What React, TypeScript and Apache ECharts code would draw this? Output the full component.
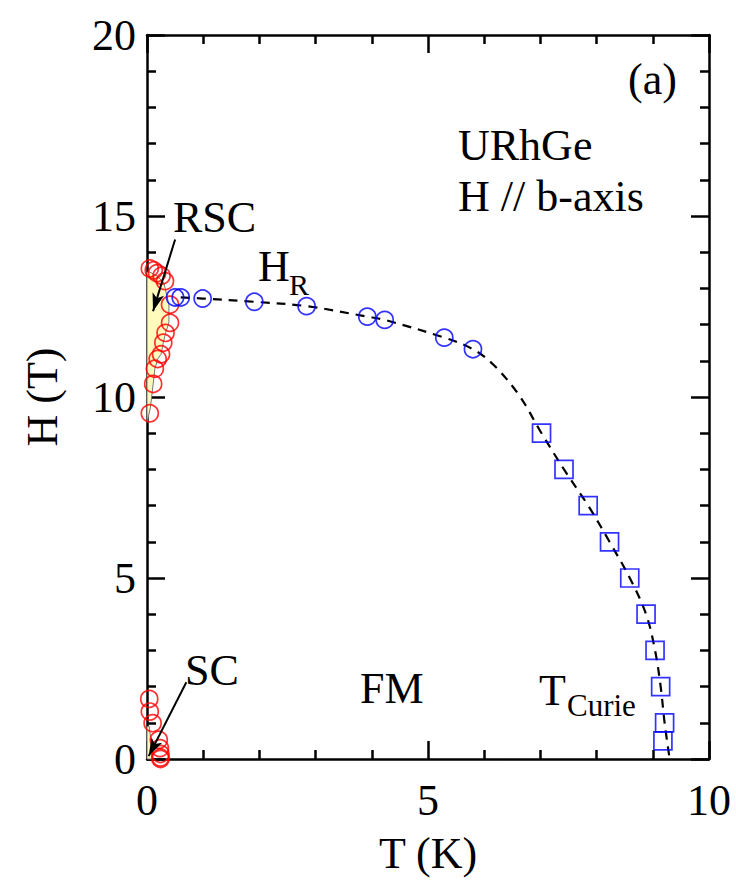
import React, { useEffect, useRef } from "react";
import * as echarts from "echarts";

// Phase diagram of URhGe, H // b-axis
const rscT = [0.05, 0.12, 0.18, 0.26, 0.32, 0.41, 0.41, 0.33, 0.29, 0.25, 0.19, 0.14, 0.11, 0.05];
const rscH = [13.55, 13.5, 13.42, 13.35, 13.2, 12.55, 12.05, 11.77, 11.5, 11.18, 11.05, 10.78, 10.36, 9.55];

const scT = [0.04, 0.05, 0.1, 0.21, 0.23, 0.24, 0.24, 0.24];
const scH = [1.66, 1.31, 0.99, 0.53, 0.3, 0.14, 0.04, 0.0];

const hrT = [0.5, 0.6, 0.99, 1.91, 2.84, 3.92, 4.23, 5.29, 5.8];
const hrH = [12.75, 12.75, 12.72, 12.63, 12.51, 12.22, 12.13, 11.64, 11.32];

const tcT = [7.02, 7.42, 7.85, 8.23, 8.59, 8.88, 9.04, 9.14, 9.21, 9.18];
const tcH = [9.0, 8.0, 7.0, 6.0, 5.0, 4.0, 3.0, 2.0, 1.0, 0.5];

// dashed guide line
const curveT = [0.6, 0.99, 1.91, 2.84, 3.92, 4.23, 5.29, 5.8, 6.16, 6.62, 7.02, 7.42, 7.85, 8.23, 8.59, 8.88, 9.04, 9.14, 9.21, 9.3];
const curveH = [12.75, 12.72, 12.63, 12.51, 12.22, 12.13, 11.64, 11.32, 10.9, 10.05, 9.0, 8.0, 7.0, 6.0, 5.0, 4.0, 3.0, 2.0, 1.0, 0.0];

// shaded superconducting regions
const rscRegionT = [0, 0.06, 0.11, 0.14, 0.19, 0.25, 0.29, 0.33, 0.39, 0.39, 0.3, 0.18, 0.05, 0];
const rscRegionH = [9.3, 9.7, 10.36, 10.78, 11.05, 11.18, 11.5, 11.77, 12.05, 12.55, 13.15, 13.35, 13.45, 13.45];
const scRegionT = [0, 0.1, 0.07, 0.04, 0];
const scRegionH = [0, 0, 0.5, 0.9, 0.9];

// arrows [startT, startH, endT, endH]
const rscArrow = [0.5, 14.35, 0.107, 12.37];
const scArrow = [0.7, 2.12, 0.03, 0.08];

const xTicks = { min: 0, max: 10, interval: 5 };
const yTicks = { min: 0, max: 20, interval: 5 };

const FONT = "'Liberation Serif', 'Times New Roman', serif";
const FS = 44;

function zip(a: number[], b: number[]) {
  return a.map((v, i) => [v, b[i]]);
}

export default function App() {
  const ref = useRef<HTMLDivElement>(null);
  useEffect(() => {
    if (!ref.current) return;
    const chart = echarts.init(ref.current, undefined, { renderer: "svg" });
    const axisCommon = {
      axisLine: { show: true, onZero: false, lineStyle: { color: "#000", width: 2.5 } },
      axisTick: { show: true, inside: true, length: 18, lineStyle: { color: "#000", width: 2.5 } },
      minorTick: { show: true, splitNumber: 5, length: 9, lineStyle: { color: "#000", width: 2.5 } },
      splitLine: { show: false },
      minorSplitLine: { show: false },
    };
    const polygonSeries = (ts: number[], hs: number[]) => ({
      type: "custom",
      coordinateSystem: "cartesian2d",
      silent: true,
      clip: false,
      z: 1,
      data: [[0, 0]],
      renderItem: (_p: any, api: any) => ({
        type: "polygon",
        shape: { points: ts.map((t, i) => api.coord([t, hs[i]])) },
        style: { fill: "#fffbbd", stroke: "#777", lineWidth: 1 },
      }),
    });
    const openMarker = (color: string) => ({ color: "rgba(0,0,0,0)", borderColor: color, borderWidth: 1.7 });
    const option: any = {
      animation: false,
      backgroundColor: "#fff",
      grid: { left: 147, right: 27, top: 35, bottom: 119, containLabel: false },
      xAxis: [
        {
          type: "value",
          ...xTicks,
          position: "bottom",
          name: "T (K)",
          nameLocation: "middle",
          nameGap: 94,
          nameTextStyle: { fontFamily: FONT, fontSize: FS, color: "#000", verticalAlign: "middle" },
          axisLabel: { fontFamily: FONT, fontSize: FS, color: "#000", margin: 19 },
          ...axisCommon,
        },
        {
          type: "value",
          ...xTicks,
          position: "top",
          axisLabel: { show: false },
          ...axisCommon,
        },
      ],
      yAxis: [
        {
          type: "value",
          ...yTicks,
          position: "left",
          name: "H (T)",
          nameLocation: "middle",
          nameGap: 105,
          nameRotate: 90,
          nameTextStyle: { fontFamily: FONT, fontSize: FS, color: "#000", verticalAlign: "middle" },
          axisLabel: { fontFamily: FONT, fontSize: FS, color: "#000", margin: 11 },
          ...axisCommon,
        },
        {
          type: "value",
          ...yTicks,
          position: "right",
          axisLabel: { show: false },
          ...axisCommon,
        },
      ],
      series: [
        polygonSeries(rscRegionT, rscRegionH),
        polygonSeries(scRegionT, scRegionH),
        {
          type: "line",
          data: zip(curveT, curveH),
          smooth: 0.35,
          showSymbol: false,
          symbol: "none",
          silent: true,
          z: 2,
          lineStyle: { color: "#000", width: 2.2, type: [9, 7] },
        },
        {
          type: "scatter",
          data: zip(rscT, rscH),
          symbol: "circle",
          symbolSize: 17,
          clip: false,
          z: 3,
          itemStyle: openMarker("#ff0000"),
          markLine: {
            silent: true,
            symbol: ["none", "arrow"],
            symbolSize: [9, 18],
            label: { show: false },
            lineStyle: { color: "#000", width: 2, type: "solid" },
            itemStyle: { color: "#000" },
            data: [
              [{ coord: [rscArrow[0], rscArrow[1]] }, { coord: [rscArrow[2], rscArrow[3]] }],
              [{ coord: [scArrow[0], scArrow[1]] }, { coord: [scArrow[2], scArrow[3]] }],
            ],
          },
        },
        {
          type: "scatter",
          data: zip(scT, scH),
          symbol: "circle",
          symbolSize: 17,
          clip: false,
          z: 3,
          itemStyle: openMarker("#ff0000"),
        },
        {
          type: "scatter",
          data: zip(hrT, hrH),
          symbol: "circle",
          symbolSize: 17,
          clip: false,
          z: 4,
          itemStyle: openMarker("#0000ff"),
        },
        {
          type: "scatter",
          data: zip(tcT, tcH),
          symbol: "rect",
          symbolSize: 18,
          clip: false,
          z: 4,
          itemStyle: openMarker("#0000ff"),
        },
      ],
      graphic: [
        { type: "text", x: 628, y: 79, style: { text: "(a)", font: `${FS}px ${FONT}`, fill: "#000", verticalAlign: "middle" } },
        { type: "text", x: 458, y: 145, style: { text: "URhGe", font: `${FS}px ${FONT}`, fill: "#000", verticalAlign: "middle" } },
        { type: "text", x: 458, y: 196, style: { text: "H // b-axis", font: `${FS}px ${FONT}`, fill: "#000", verticalAlign: "middle" } },
        { type: "text", x: 173, y: 217, style: { text: "RSC", font: `${FS}px ${FONT}`, fill: "#000", verticalAlign: "middle" } },
        { type: "text", x: 258, y: 266, style: { text: "H", font: `${FS}px ${FONT}`, fill: "#000", verticalAlign: "middle" } },
        { type: "text", x: 289, y: 284, style: { text: "R", font: `30px ${FONT}`, fill: "#000", verticalAlign: "middle" } },
        { type: "text", x: 185, y: 670, style: { text: "SC", font: `${FS}px ${FONT}`, fill: "#000", verticalAlign: "middle" } },
        { type: "text", x: 360, y: 688, style: { text: "FM", font: `${FS}px ${FONT}`, fill: "#000", verticalAlign: "middle" } },
        { type: "text", x: 539, y: 690, style: { text: "T", font: `${FS}px ${FONT}`, fill: "#000", verticalAlign: "middle" } },
        { type: "text", x: 567, y: 705, style: { text: "Curie", font: `31px ${FONT}`, fill: "#000", verticalAlign: "middle" } },
      ],
    };
    chart.setOption(option);
    return () => chart.dispose();
  }, []);
  return <div ref={ref} style={{ width: 736, height: 880, position: "absolute", left: 0, top: 0 }} />;
}
